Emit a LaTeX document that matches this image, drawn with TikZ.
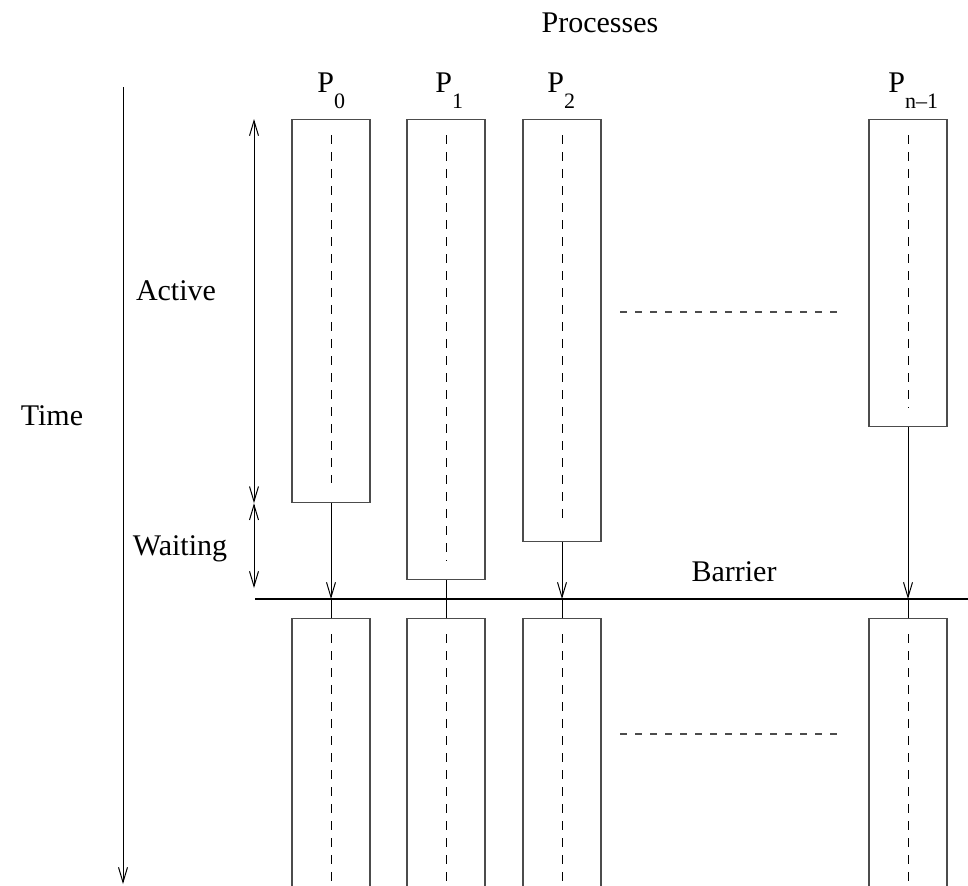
\documentclass[tikz,border=0pt]{standalone}
\usepackage{fontspec}
\setmainfont{Liberation Serif}
\usetikzlibrary{arrows.meta,positioning}

\tikzset{
  procbox/.style={draw=black!70, line width=0.6pt, minimum width=39pt, inner sep=0pt, anchor=north},
  midline/.style={line width=0.5pt, dash pattern=on 4.5pt off 4pt},
  dotline/.style={black!70, line width=0.6pt, dash pattern=on 3.5pt off 4pt},
  link/.style={line width=0.5pt, -{Straight Barb[length=7.5pt,width=4.5pt]}},
  span/.style={line width=0.5pt, {Straight Barb[length=7.5pt,width=4.5pt]}-{Straight Barb[length=7.5pt,width=4.5pt]}},
  lbl/.style={font=\fontsize{15pt}{18pt}\selectfont, inner sep=0pt, anchor=base},
  plbl/.style={font=\fontsize{15pt}{18pt}\selectfont, inner sep=0pt, anchor=base west}
}
\newcommand{\psub}[1]{\raisebox{-8pt}{\fontsize{11pt}{13pt}\selectfont #1}}

\begin{document}
\begin{tikzpicture}[x=0.5pt, y=-0.5pt]
    \path[use as bounding box, clip] (0,0) rectangle (968,885);

    % Labels
    \node[lbl] (procs) at (600,32) {Processes};
    \node[lbl] (time) at (52,425) {Time};
    \node[lbl] (active) at (176,300) {Active};
    \node[lbl] (waiting) at (180,555) {Waiting};
    \node[lbl] (barrier) at (734,581) {Barrier};

    \node[plbl] (p0) at (317,92) {P\psub{0}};
    \node[plbl] (p1) at (435,92) {P\psub{1}};
    \node[plbl] (p2) at (547,92) {P\psub{2}};
    \node[plbl] (pn) at (888,92) {P\psub{n–1}};

    % Time axis
    \coordinate (ttop) at (123,87);
    \coordinate (tbot) at (123,884);
    \draw[link] (ttop) -- (tbot);

    % Barrier
    \coordinate (barl) at (255,599);
    \coordinate (barr) at (968,599);
    \draw[line width=1.4pt] (barl) -- (barr);

    % Active phase
    \node[procbox, minimum height=191.5pt] (a0) at (331,119) {};
    \node[procbox, minimum height=230pt] (a1) at (446,119) {};
    \node[procbox, minimum height=211pt] (a2) at (562,119) {};
    \node[procbox, minimum height=153.5pt] (an) at (908,119) {};

    \draw[midline] ([yshift=-8pt]a0.north) -- ([yshift=10pt]a0.south);
    \draw[midline] ([yshift=-8pt]a1.north) -- ([yshift=10pt]a1.south);
    \draw[midline] ([yshift=-8pt]a2.north) -- ([yshift=10pt]a2.south);
    \draw[midline] ([yshift=-8pt]an.north) -- ([yshift=10pt]an.south);

    % Next phase
    \node[procbox, minimum height=150pt] (b0) at (331,618) {};
    \node[procbox, minimum height=150pt] (b1) at (446,618) {};
    \node[procbox, minimum height=150pt] (b2) at (562,618) {};
    \node[procbox, minimum height=150pt] (bn) at (908,618) {};

    \draw[midline] ([yshift=-8pt]b0.north) -- (b0.south);
    \draw[midline] ([yshift=-8pt]b1.north) -- (b1.south);
    \draw[midline] ([yshift=-8pt]b2.north) -- (b2.south);
    \draw[midline] ([yshift=-8pt]bn.north) -- (bn.south);

    % Waiting at the barrier
    \draw[link] (a0.south) -- (a0.south |- barl);
    \draw[line width=0.5pt] (a1.south) -- (a1.south |- barl);
    \draw[link] (a2.south) -- (a2.south |- barl);
    \draw[link] (an.south) -- (an.south |- barl);

    \draw[line width=0.5pt] (a0.south |- barl) -- (b0.north);
    \draw[line width=0.5pt] (a1.south |- barl) -- (b1.north);
    \draw[line width=0.5pt] (a2.south |- barl) -- (b2.north);
    \draw[line width=0.5pt] (an.south |- barl) -- (bn.north);

    % Phase spans
    \coordinate (atop) at (254,119);
    \coordinate (amid) at (atop |- a0.south);
    \coordinate (wbot) at (254,588);
    \draw[span] (atop) -- (amid);
    \draw[span] (amid) -- (wbot);

    % Other processes
    \draw[dotline] (620,312) -- (843,312);
    \draw[dotline] (620,734) -- (843,734);
\end{tikzpicture}
\end{document}
